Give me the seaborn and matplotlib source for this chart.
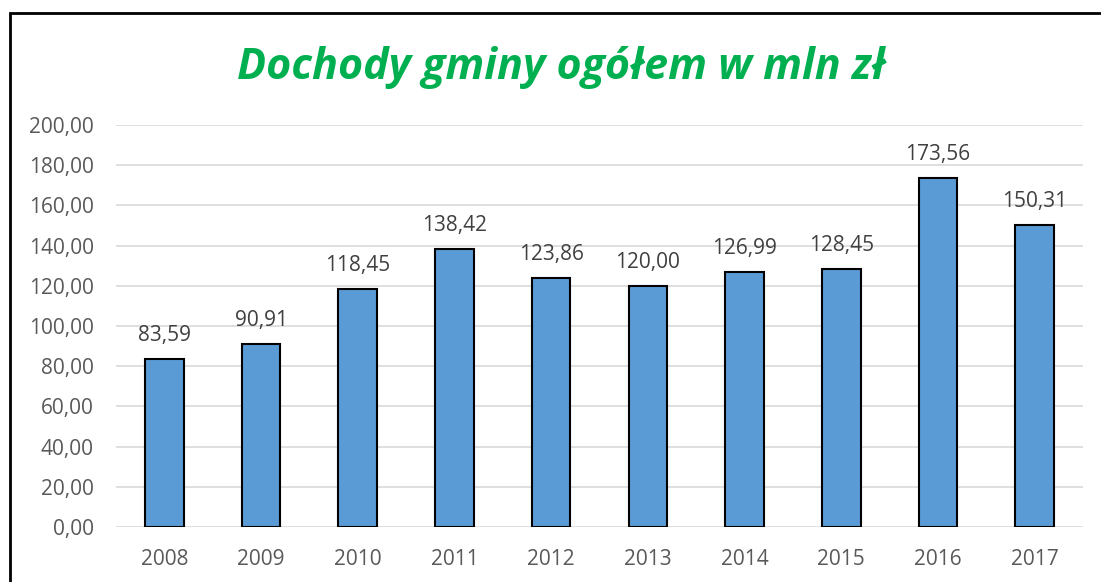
import pandas as pd
import matplotlib.pyplot as plt
import matplotlib.patches as mpatches
import seaborn as sns

lata = ['2008', '2009', '2010', '2011', '2012', '2013', '2014', '2015', '2016', '2017']
dochody = [83.59, 90.91, 118.45, 138.42, 123.86, 120.00, 126.99, 128.45, 173.56, 150.31]
y_ticks = [0, 20, 40, 60, 80, 100, 120, 140, 160, 180, 200]

sns.set_theme(style="white")
plt.rcParams['font.family'] = ['Open Sans', 'DejaVu Sans']


def pl(v):
    # format z przecinkiem dziesiętnym
    return f"{v:.2f}".replace('.', ',')


def main():
    df = pd.DataFrame({'rok': lata, 'dochody': dochody})

    fig = plt.figure(figsize=(11.01, 5.82), dpi=100)
    ax = fig.add_axes([116 / 1101, 55 / 582, (1083 - 116) / 1101, (527 - 125) / 582])

    sns.barplot(data=df, x='rok', y='dochody', color='#5B9BD5', saturation=1,
                width=0.4, edgecolor='black', linewidth=1.5, ax=ax)

    ax.set_xlim(-0.5, 9.5)
    ax.set_ylim(0, 200)
    ax.set_yticks(y_ticks)
    ax.set_yticklabels([pl(v) for v in y_ticks])
    ax.set_xlabel('')
    ax.set_ylabel('')
    ax.grid(axis='y', color='#D9D9D9', linewidth=1.2)
    ax.set_axisbelow(True)
    for s in ax.spines.values():
        s.set_visible(False)
    ax.tick_params(axis='both', length=0, labelsize=15, colors='#595959')
    ax.tick_params(axis='y', pad=16)
    ax.tick_params(axis='x', pad=16)

    for i, v in enumerate(dochody):
        ax.annotate(pl(v), (i, v), xytext=(0, 13), textcoords='offset points',
                    ha='center', va='baseline', fontsize=15, color='#404040')

    fig.text(561 / 1101, (582 - 79) / 582, 'Dochody gminy ogółem w mln zł',
             ha='center', va='baseline', fontsize=31, fontweight='bold',
             fontstyle='italic', color='#00B050')

    # ramka wykresu
    fig.patches.append(mpatches.Rectangle((10 / 1101, -0.1), 1.0, (582 - 13) / 582 + 0.1,
                                          transform=fig.transFigure, fill=False,
                                          edgecolor='black', linewidth=2))

    fig.savefig('out.png', dpi=100)


if __name__ == "__main__":
    main()
